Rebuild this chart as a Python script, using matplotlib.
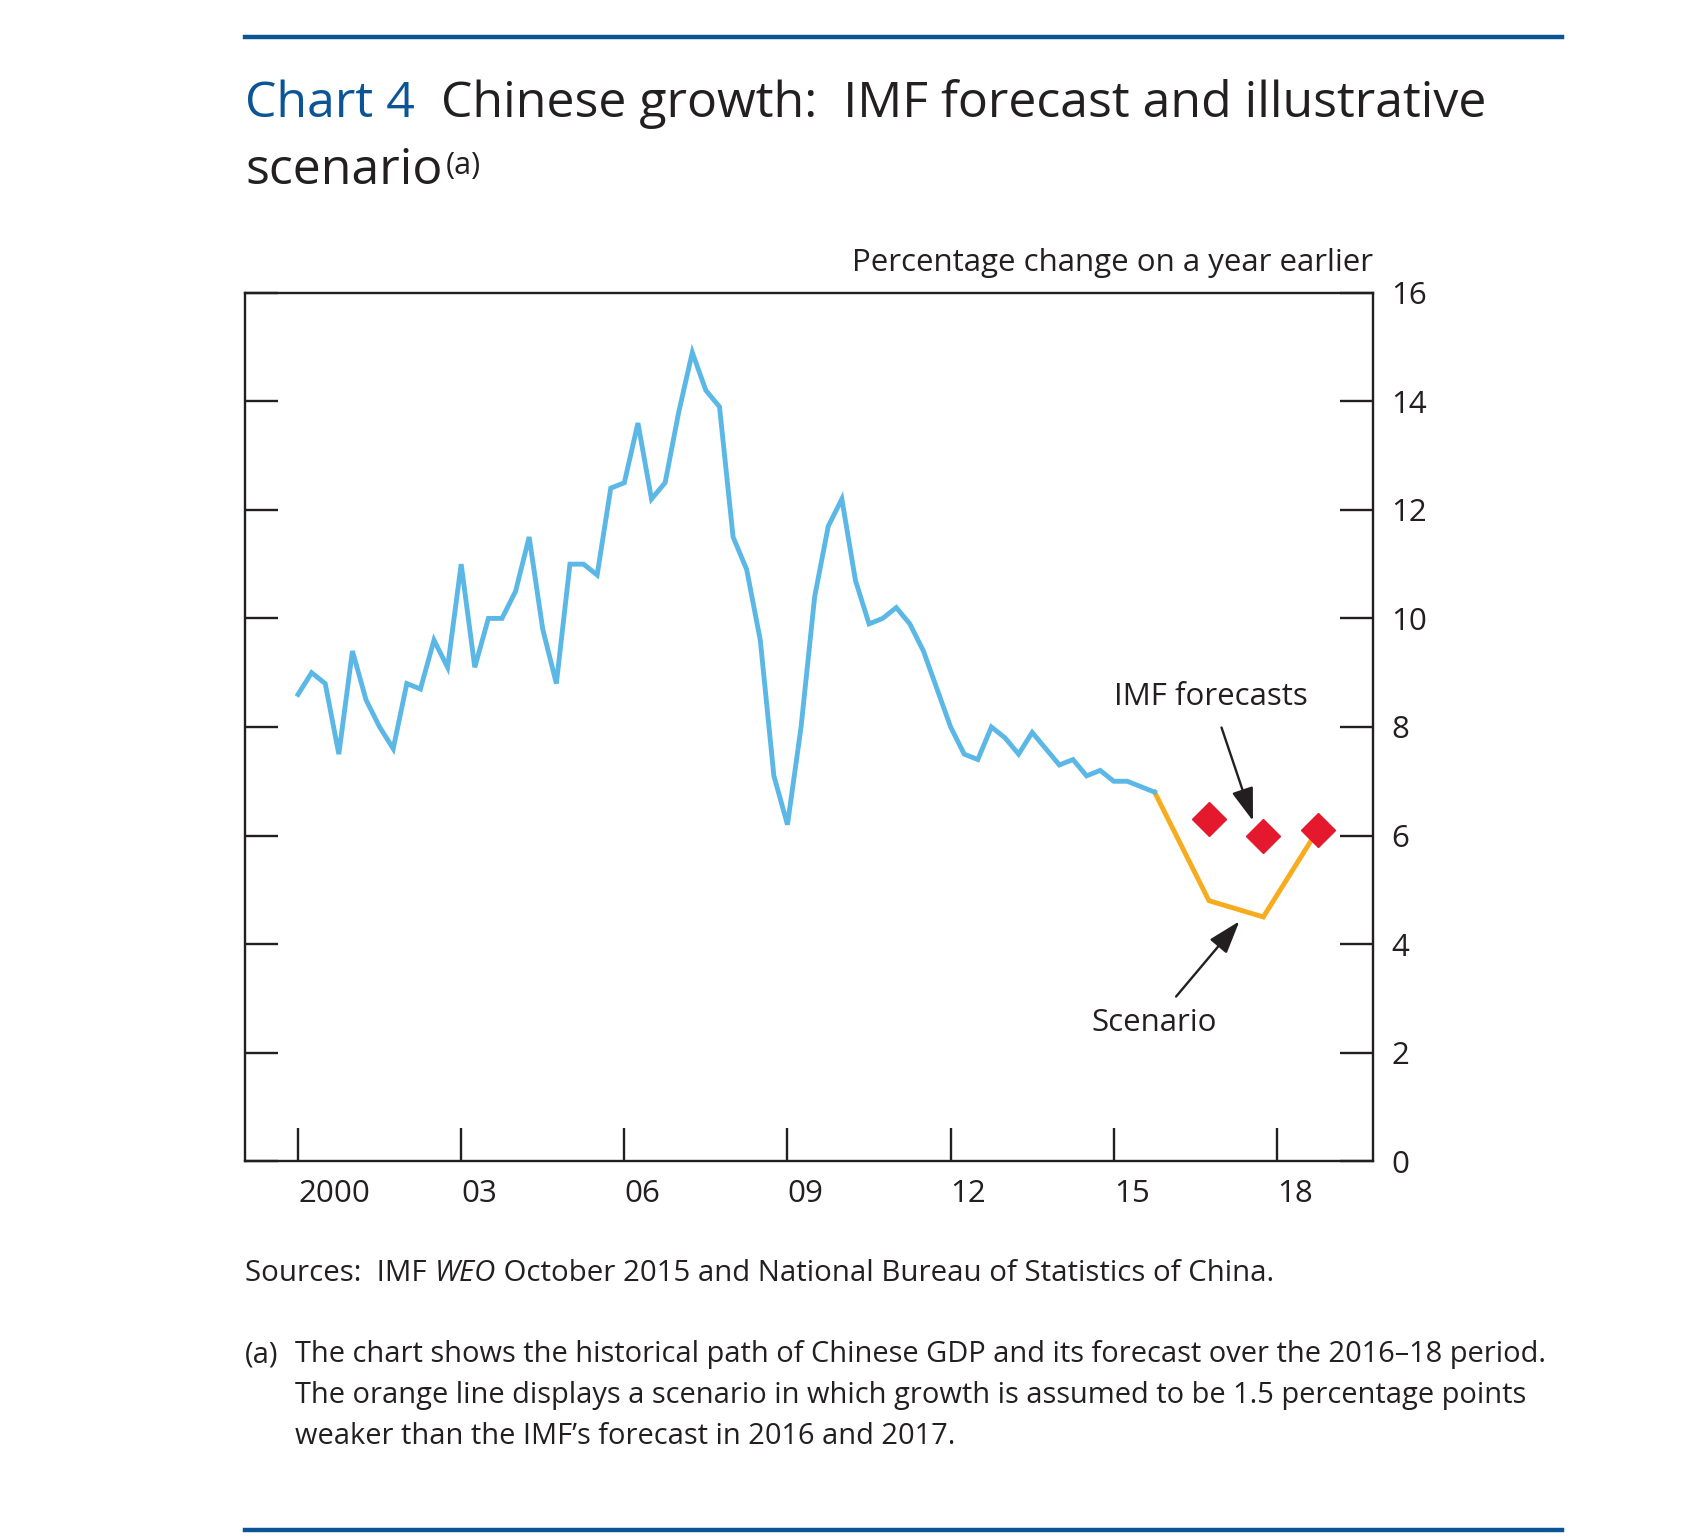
import matplotlib
matplotlib.use('Agg')
import matplotlib.pyplot as plt
import numpy as np

plt.rcParams['font.family'] = ['Open Sans', 'DejaVu Sans']

# Quarterly Chinese GDP growth, 2000 Q1 - 2015 Q4 (% change on a year earlier)
gdp_growth = [
    8.6, 9.0, 8.8, 7.5,      # 2000
    9.4, 8.5, 8.0, 7.6,      # 2001
    8.8, 8.7, 9.6, 9.1,      # 2002
    11.0, 9.1, 10.0, 10.0,   # 2003
    10.5, 11.5, 9.8, 8.8,    # 2004
    11.0, 11.0, 10.8, 12.4,  # 2005
    12.5, 13.6, 12.2, 12.5,  # 2006
    13.8, 14.9, 14.2, 13.9,  # 2007
    11.5, 10.9, 9.6, 7.1,    # 2008
    6.2, 8.0, 10.4, 11.7,    # 2009
    12.2, 10.7, 9.9, 10.0,   # 2010
    10.2, 9.9, 9.4, 8.7,     # 2011
    8.0, 7.5, 7.4, 8.0,      # 2012
    7.8, 7.5, 7.9, 7.6,      # 2013
    7.3, 7.4, 7.1, 7.2,      # 2014
    7.0, 7.0, 6.9, 6.8,      # 2015
]
first_year = 2000

# IMF WEO forecasts (annual) and illustrative scenario
forecast_years = [2016, 2017, 2018]
imf_forecast = [6.3, 6.0, 6.1]
scenario_years = [2015, 2016, 2017, 2018]
scenario = [6.8, 4.8, 4.5, 6.1]

tick_years = [2000, 2003, 2006, 2009, 2012, 2015, 2018]
tick_labels = ['2000', '03', '06', '09', '12', '15', '18']
y_ticks = [0, 2, 4, 6, 8, 10, 12, 14, 16]

BLUE = '#5bb8e6'
ORANGE = '#f8ab1c'
RED = '#e5192e'
BOE_BLUE = '#0b5596'
TXT = '#231f20'

fig = plt.figure(figsize=(16.94, 15.36), dpi=100)
ax = fig.add_axes([0.1448, 0.2440, 0.6658, 0.5654])

# annual values are plotted at the fourth quarter of the year
x_hist = first_year + np.arange(len(gdp_growth)) * 0.25
x_scen = np.array(scenario_years) + 0.75
x_fc = np.array(forecast_years) + 0.75

ax.plot(x_scen, scenario, color=ORANGE, lw=3.5, solid_joinstyle='miter', zorder=3)
ax.plot(x_hist, gdp_growth, color=BLUE, lw=3.5, solid_joinstyle='miter', zorder=4)
ax.plot(x_fc, imf_forecast, ls='none', marker='D', ms=17, color=RED, mec=RED, zorder=5)

ax.set_xlim(1999.03, 2019.77)
ax.set_ylim(0, 16)

for s in ax.spines.values():
    s.set_linewidth(1.7)
    s.set_color(TXT)

ax.set_xticks(tick_years)
ax.set_xticklabels(tick_labels)
for lbl in ax.get_xticklabels():
    lbl.set_ha('left')
ax.set_yticks(y_ticks)
ax.tick_params(axis='x', direction='in', length=24, width=1.7, color=TXT,
               labelsize=22.5, labelcolor=TXT, pad=13)
ax.tick_params(axis='y', direction='in', length=24, width=1.7, color=TXT,
               left=True, right=True, labelleft=False, labelright=True,
               labelsize=22.5, labelcolor=TXT, pad=13)

ax.annotate('IMF forecasts', xy=(2017.56, 6.27), xytext=(2016.79, 8.56),
            ha='center', va='center', fontsize=22.5, color=TXT,
            arrowprops=dict(arrowstyle='-|>,head_length=0.9,head_width=0.3',
                            color=TXT, lw=1.7, shrinkA=10, shrinkB=0))
ax.annotate('Scenario', xy=(2017.31, 4.42), xytext=(2015.74, 2.55),
            ha='center', va='center', fontsize=22.5, color=TXT,
            arrowprops=dict(arrowstyle='-|>,head_length=0.9,head_width=0.3',
                            color=TXT, lw=1.7, shrinkA=8, shrinkB=0))

fig.text(0.8106, 0.829, 'Percentage change on a year earlier', ha='right',
         va='center', fontsize=22.5, color=TXT)

renderer = fig.canvas.get_renderer()


def draw_runs(x, y, runs, **kw):
    # draw consecutive text pieces with different styles on one baseline
    for s, props in runs:
        t = fig.text(x, y, s, va='baseline', **kw, **props)
        bb = t.get_window_extent(renderer=renderer)
        x = fig.transFigure.inverted().transform((bb.x1, bb.y0))[0]
    return x


# rules
fig.add_artist(plt.Line2D([0.1448, 0.9222], [0.9761, 0.9761], color=BOE_BLUE, lw=3.2))
fig.add_artist(plt.Line2D([0.1448, 0.9222], [0.0042, 0.0042], color=BOE_BLUE, lw=3.2))

# title
draw_runs(0.1448, 0.924, [('Chart 4', dict(color=BOE_BLUE)),
                          ('  Chinese growth:  IMF forecast and illustrative', dict(color=TXT))],
          fontsize=36)
xe = draw_runs(0.1448, 0.8805, [('scenario', dict(color=TXT))], fontsize=36)
fig.text(xe + 0.002, 0.8865, '(a)', fontsize=22, color=TXT, va='baseline')

# sources and footnote
draw_runs(0.1448, 0.166, [('Sources:  IMF ', {}), ('WEO', dict(style='italic')),
                          (' October 2015 and National Bureau of Statistics of China.', {})],
          fontsize=21.2, color=TXT)
fig.text(0.1448, 0.113, '(a)', fontsize=21, color=TXT, va='baseline')
notes = ['The chart shows the historical path of Chinese GDP and its forecast over the 2016\u201318 period.',
         'The orange line displays a scenario in which growth is assumed to be 1.5 percentage points',
         'weaker than the IMF\u2019s forecast in 2016 and 2017.']
for i, line in enumerate(notes):
    fig.text(0.1741, 0.113 - i * 0.0264, line, fontsize=20.9, color=TXT, va='baseline')

fig.savefig('out.png', dpi=100)
